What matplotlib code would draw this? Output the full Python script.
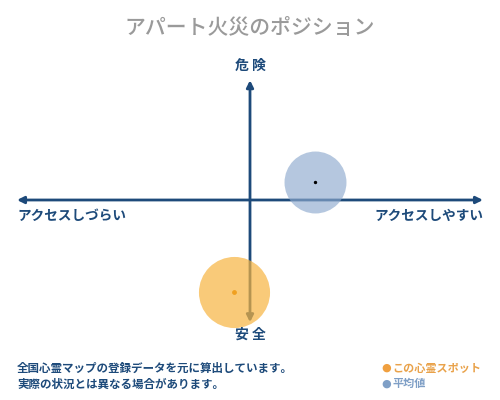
import matplotlib
matplotlib.use("Agg")
import matplotlib.pyplot as plt

plt.rcParams['font.family'] = ['Noto Sans CJK JP', 'DejaVu Sans']

# data
title = "アパート火災のポジション"
axis_top = "危 険"
axis_bottom = "安 全"
axis_left = "アクセスしづらい"
axis_right = "アクセスしやすい"
notes = ["全国心霊マップの登録データを元に算出しています。",
         "実際の状況とは異なる場合があります。"]
legend_labels = ["この心霊スポット", "平均値"]

spot_x = [-0.07]
spot_y = [-0.76]
avg_x = [0.28]
avg_y = [0.15]

navy = '#1d4a7a'
orange = '#f7b440'
blue = '#7f9fc6'

fig = plt.figure(figsize=(5, 4), dpi=100)
ax = fig.add_axes([0, 0, 1, 1])
ax.set_xlim(-1.073, 1.073)
ax.set_ylim(-1.653, 1.653)
ax.axis('off')

# axes arrows
ax.annotate('', xy=(-1, 0), xytext=(1, 0),
            arrowprops=dict(arrowstyle='<|-|>', color=navy, lw=2,
                            mutation_scale=10, shrinkA=0, shrinkB=0))
ax.annotate('', xy=(0, 0.99), xytext=(0, -1.01),
            arrowprops=dict(arrowstyle='<|-|>', color=navy, lw=2,
                            mutation_scale=10, shrinkA=0, shrinkB=0))

# bubbles
ax.scatter(avg_x, avg_y, s=1990, color='#8eaace', alpha=0.65, lw=0, zorder=3)
ax.scatter(avg_x, avg_y, s=2, color='black', zorder=4)
ax.scatter(spot_x, spot_y, s=2620, color=orange, alpha=0.7, lw=0, zorder=3)
ax.scatter(spot_x, spot_y, s=6, color='#f0a020', zorder=4)

# labels
ax.text(0, 1.11, axis_top, ha='center', va='center', fontsize=10,
        fontweight='bold', color=navy)
ax.text(0, -1.11, axis_bottom, ha='center', va='center', fontsize=10,
        fontweight='bold', color=navy)
ax.text(-1, -0.13, axis_left, ha='left', va='center', fontsize=9.8,
        fontweight='bold', color=navy)
ax.text(1, -0.13, axis_right, ha='right', va='center', fontsize=9.8,
        fontweight='bold', color=navy)

fig.text(0.5, 0.93, title, ha='center', va='center', fontsize=15,
         color='#9a9a9a', fontweight='medium')

fig.text(0.034, 0.08, notes[0], ha='left', va='center', fontsize=8.3,
         fontweight='bold', color=navy)
fig.text(0.034, 0.04, notes[1], ha='left', va='center', fontsize=8.3,
         fontweight='bold', color=navy)

fig.text(0.762, 0.082, '●', ha='left', va='center', fontsize=8,
         color='#f0a040', family=['DejaVu Sans'])
fig.text(0.785, 0.08, legend_labels[0], ha='left', va='center', fontsize=8,
         color='#e9a24a', fontweight='bold')
fig.text(0.762, 0.042, '●', ha='left', va='center', fontsize=8,
         color=blue, family=['DejaVu Sans'])
fig.text(0.785, 0.04, legend_labels[1], ha='left', va='center', fontsize=8,
         color=blue, fontweight='bold')

fig.savefig('out.png', dpi=100)
